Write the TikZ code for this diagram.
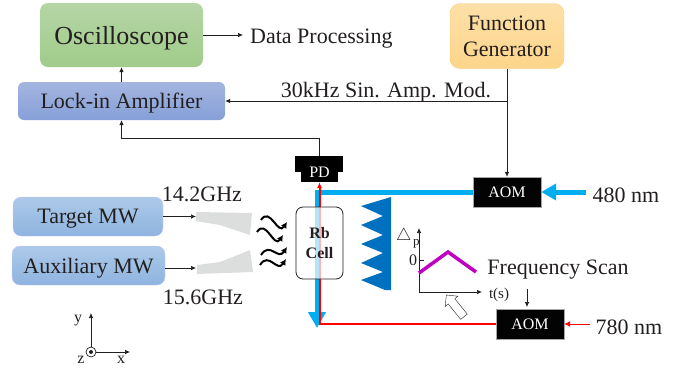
\documentclass[tikz,border=0pt]{standalone}
\usepackage{fontspec}
\setmainfont{Liberation Serif}
\usetikzlibrary{arrows.meta,shapes.arrows}

\definecolor{inktext}{HTML}{231F20}
\definecolor{laserblue}{HTML}{00AEEF}
\definecolor{platesblue}{HTML}{0070C0}
\definecolor{scanmagenta}{HTML}{C000C0}
\definecolor{horngray}{HTML}{DCDDDD}

\tikzstyle{txt} = [text=inktext, inner sep=0pt, text depth=0pt, font=\fontsize{22}{25}\selectfont]
\tikzstyle{smalltxt} = [text=inktext, inner sep=0pt, font=\fontsize{16}{18}\selectfont]
\tikzstyle{panel} = [rectangle, rounded corners=8pt, inner sep=0pt, align=center, text=inktext]
\tikzstyle{aom} = [rectangle, draw=black!35, fill=black!90!inktext, text=white, inner sep=0pt,
  minimum width=68pt, minimum height=30pt, font=\fontsize{16}{18}\selectfont]
\tikzstyle{mwbox} = [panel, draw=blue!20, top color={rgb,255:red,172;green,201;blue,232},
  bottom color={rgb,255:red,143;green,180;blue,224}, minimum height=39pt, text depth=0pt,
  font=\fontsize{22}{25}\selectfont]
\tikzstyle{wire} = [draw=inktext, -{Latex[length=5pt,width=4.5pt]}, line width=0.7pt]

\begin{document}
\begin{tikzpicture}[x=1pt,y=-1pt]
        \useasboundingbox (0,0) rectangle (689,373);

        \node [panel, minimum width=163pt, minimum height=64pt, text depth=0pt,
          top color={rgb,255:red,181;green,213;blue,165},
          bottom color={rgb,255:red,160;green,204;blue,138},
          font=\fontsize{26}{29}\selectfont] (scope) at (121.5,35) {Oscilloscope};
        \node [panel, rounded corners=6pt, minimum width=207pt, minimum height=38pt, text depth=0pt,
          top color={rgb,255:red,165;green,181;blue,223},
          bottom color={rgb,255:red,133;green,160;blue,216},
          font=\fontsize{22}{25}\selectfont] (lockin) at (121.5,101) {Lock-in Amplifier};
        \node [panel, rounded corners=10pt, minimum width=114pt, minimum height=65pt,
          draw={rgb,255:red,250;green,205;blue,120},
          top color={rgb,255:red,253;green,224;blue,168},
          bottom color={rgb,255:red,253;green,213;blue,138},
          font=\fontsize{22}{26}\selectfont] (fgen) at (507,36) {Function\\Generator};
        \node [txt, anchor=west] (data) at (250,36) {Data Processing};
        \node [txt] (ampmod) at (386,90) {30kHz Sin. Amp. Mod.};

        \node [mwbox, minimum width=150pt] (target) at (88,216.5) {Target MW};
        \node [mwbox, minimum width=153pt] (aux) at (88.5,265.5) {Auxiliary MW};
        \node [txt] (ghz1) at (202,194.5) {14.2GHz};
        \node [txt] (ghz2) at (203,297) {15.6GHz};

        % horns
        \fill [horngray] (196,212) -- (252,213) -- (250,235) -- (220,225) -- (196,221) -- cycle;
        \fill [horngray] (197,265) -- (220,262) -- (250,250) -- (253,272) -- (197,274) -- cycle;
        \coordinate (horn1) at (196,216.5);
        \coordinate (horn2) at (196,268);

        \foreach \wx/\wy/\wdy in {261/220/2, 257/232/3, 261/255/-8, 260/265/-6}
          \draw [line width=2pt, -{Latex[length=6pt,width=6.5pt]}]
            (\wx,\wy) .. controls +(9,-14) and +(-9,14) .. +(26,\wdy);

        \node [rectangle, fill=black, minimum width=48pt, minimum height=16pt, inner sep=0pt] (pdhead) at (319,164) {};
        \node [rectangle, fill=black, minimum width=37pt, minimum height=20pt, inner sep=0pt,
          text=white, font=\fontsize{16}{18}\selectfont] (pd) at (319.5,172) {PD};

        \node [aom] (aom480) at (507,192) {AOM};
        \node [aom] (aom780) at (530,324) {AOM};
        \node [txt] (nm480) at (626,195) {480 nm};
        \node [txt] (nm780) at (629,327) {780 nm};
        \coordinate (in480) at (586,192);
        \coordinate (in780) at (590,324);
        \coordinate (blueend) at (317,328);

        % beams
        \draw [laserblue, line width=5pt, -{Triangle[length=16pt,width=17pt]}] (aom480.west) -| (blueend);
        \draw [laserblue, line width=5pt, -{Triangle[length=15pt,width=16pt]}] (in480) -- (aom480.east);
        \draw [red, line width=2pt, -{Latex[length=6pt,width=5pt]}] (aom780.west) -| (pd.south);
        \draw [red, line width=1pt, -{Latex[length=6pt,width=6pt]}] (in780) -- (aom780.east);

        \node [panel, rounded corners=7pt, draw=inktext, line width=0.8pt, fill=white, fill opacity=0.7, text opacity=1,
          minimum width=47pt, minimum height=72pt, font=\fontsize{16}{20}\selectfont\bfseries] (cell) at (319.5,243) {Rb\\Cell};

        \fill [platesblue] (391,197) -- (361,206) -- (383,216) -- (361,225) -- (383,235) -- (361,244)
          -- (383,253) -- (361,263) -- (383,272) -- (361,280) -- (385,290) -- (391,290) -- cycle;

        % scan graph
        \coordinate (orig) at (419,292);
        \coordinate (ytip) at (419,228);
        \coordinate (xtip) at (482,292);
        \draw [wire] (orig) -- (ytip);
        \draw [wire] (orig) -- (xtip);
        \draw [inktext, line width=0.6pt] (419,260) -- (424,260);
        \draw [scanmagenta, line width=3.5pt] (419,273) -- (448,252) -- (476,272);
        \node [smalltxt] (zero) at (413,260) {0};
        \node [smalltxt, font=\fontsize{15}{18}\selectfont] (ts) at (499,295) {t(s)};
        \node [smalltxt, anchor=base west] (dp) at (396,240) {$\triangle$\raisebox{-5pt}{\hspace{1.5pt}\fontsize{13}{14}\selectfont p}};
        \node [txt] (fscan) at (558,267) {Frequency Scan};
        \node [single arrow, draw=inktext, fill=white, rotate=129, minimum height=28pt, minimum width=16pt,
          single arrow head extend=4pt, inner sep=4pt] (scanarrow) at (456.5,307.5) {};
        \coordinate (scanfrom) at (527,289);
        \coordinate (scanto) at (527,307);

        % axes
        \node [circle, draw=inktext, fill=white, minimum size=10pt, inner sep=0pt, line width=0.7pt] (zaxis) at (91,352) {};
        \fill [inktext] (zaxis.center) circle (2pt);
        \coordinate (yaxis) at (91,313);
        \coordinate (xaxis) at (130,352);
        \draw [wire] (zaxis.north) -- (yaxis);
        \draw [wire] (zaxis.east) -- (xaxis);
        \node [smalltxt] (ylab) at (78,321) {y};
        \node [smalltxt] (zlab) at (81,360) {z};
        \node [smalltxt] (xlab) at (121,360) {x};

        \draw [wire, shorten >=7pt] (scope.east) -- (scope.east -| data.west);
        \draw [wire] (lockin.north) -- (scope.south);
        \draw [wire] (pdhead.north) |- (121.5,138) -- (lockin.south);
        \draw [wire] (fgen.south) -- (aom480.north);
        \draw [wire] (507,101) -- (lockin.east);
        \draw [wire] (target.east) -- (horn1);
        \draw [wire] (aux.east |- horn2) -- (horn2);
        \draw [wire] (scanfrom) -- (scanto);
      \end{tikzpicture}
\end{document}
